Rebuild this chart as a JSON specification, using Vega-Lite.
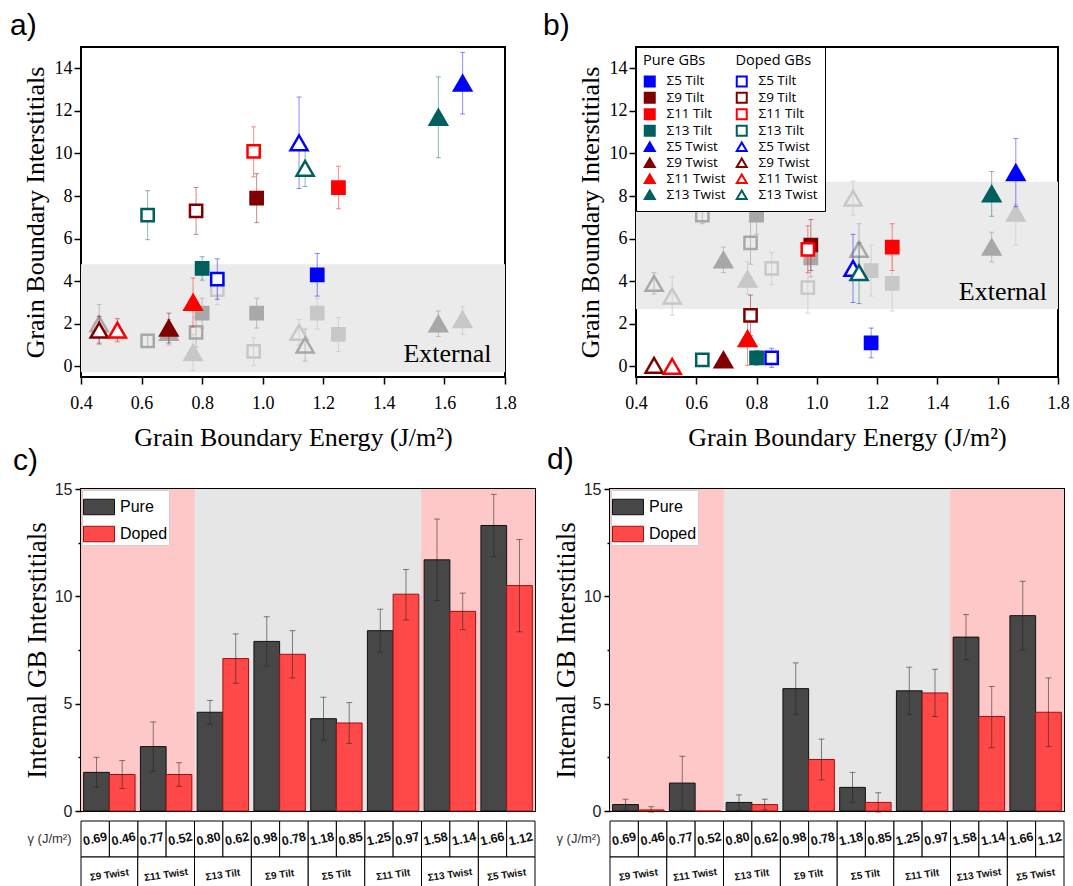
{
  "$schema": "https://vega.github.io/schema/vega-lite/v6.json",
  "padding": {"left": 9, "top": 10, "right": 5, "bottom": 0},
  "datasets": {
    "gb": [
      {"n":"Σ5 Tilt","sig":"Σ5","type":"Tilt","state":"Pure","lkey":"Pure|Σ5 Tilt","g":1.18,"a":4.3,"alo":3.3,"ahi":5.3,"ae":2.5,"aelo":1.75,"aehi":3.2,"b":1.1,"blo":0.4,"bhi":1.8,"be":4.5,"belo":3.3,"behi":5.7},
      {"n":"Σ9 Tilt","sig":"Σ9","type":"Tilt","state":"Pure","lkey":"Pure|Σ9 Tilt","g":0.98,"a":7.9,"alo":6.75,"ahi":9.05,"ae":2.5,"aelo":1.8,"aehi":3.2,"b":5.7,"blo":4.5,"bhi":6.9,"be":5.1,"belo":4.2,"behi":6.0},
      {"n":"Σ11 Tilt","sig":"Σ11","type":"Tilt","state":"Pure","lkey":"Pure|Σ11 Tilt","g":1.25,"a":8.4,"alo":7.4,"ahi":9.4,"ae":1.5,"aelo":0.7,"aehi":2.3,"b":5.6,"blo":4.5,"bhi":6.7,"be":3.9,"belo":2.6,"behi":5.2},
      {"n":"Σ13 Tilt","sig":"Σ13","type":"Tilt","state":"Pure","lkey":"Pure|Σ13 Tilt","g":0.80,"a":4.6,"alo":4.05,"ahi":5.15,"ae":2.5,"aelo":1.8,"aehi":3.2,"b":0.4,"blo":0.05,"bhi":0.75,"be":7.1,"belo":6.2,"behi":8.0},
      {"n":"Σ5 Twist","sig":"Σ5","type":"Twist","state":"Pure","lkey":"Pure|Σ5 Twist","g":1.66,"a":13.3,"alo":11.85,"ahi":14.75,"ae":2.2,"aelo":1.5,"aehi":2.8,"b":9.1,"blo":7.5,"bhi":10.7,"be":7.2,"belo":5.7,"behi":7.6},
      {"n":"Σ9 Twist","sig":"Σ9","type":"Twist","state":"Pure","lkey":"Pure|Σ9 Twist","g":0.69,"a":1.8,"alo":1.1,"ahi":2.5,"ae":1.6,"aelo":1.0,"aehi":2.2,"b":0.3,"blo":0.05,"bhi":0.55,"be":5.0,"belo":4.4,"behi":5.6},
      {"n":"Σ11 Twist","sig":"Σ11","type":"Twist","state":"Pure","lkey":"Pure|Σ11 Twist","g":0.77,"a":3.0,"alo":1.85,"ahi":4.15,"ae":0.65,"aelo":-0.2,"aehi":1.5,"b":1.3,"blo":0.05,"bhi":2.55,"be":4.1,"belo":3.4,"behi":4.9},
      {"n":"Σ13 Twist","sig":"Σ13","type":"Twist","state":"Pure","lkey":"Pure|Σ13 Twist","g":1.58,"a":11.7,"alo":9.8,"ahi":13.6,"ae":2.0,"aelo":1.4,"aehi":2.6,"b":8.1,"blo":7.05,"bhi":9.15,"be":5.6,"belo":4.9,"behi":6.3},
      {"n":"Σ5 Tilt","sig":"Σ5","type":"Tilt","state":"Doped","lkey":"Doped|Σ5 Tilt","g":0.85,"a":4.1,"alo":3.15,"ahi":5.05,"ae":3.6,"aelo":2.9,"aehi":4.3,"b":0.4,"blo":-0.05,"bhi":0.85,"be":4.6,"belo":3.85,"behi":5.35},
      {"n":"Σ9 Tilt","sig":"Σ9","type":"Tilt","state":"Doped","lkey":"Doped|Σ9 Tilt","g":0.78,"a":7.3,"alo":6.2,"ahi":8.4,"ae":1.6,"aelo":0.9,"aehi":2.3,"b":2.4,"blo":1.45,"bhi":3.35,"be":5.8,"belo":4.8,"behi":6.8},
      {"n":"Σ11 Tilt","sig":"Σ11","type":"Tilt","state":"Doped","lkey":"Doped|Σ11 Tilt","g":0.97,"a":10.1,"alo":8.9,"ahi":11.25,"ae":0.7,"aelo":0.05,"aehi":1.35,"b":5.5,"blo":4.4,"bhi":6.6,"be":3.7,"belo":2.5,"behi":4.9},
      {"n":"Σ13 Tilt","sig":"Σ13","type":"Tilt","state":"Doped","lkey":"Doped|Σ13 Tilt","g":0.62,"a":7.1,"alo":5.95,"ahi":8.25,"ae":1.2,"aelo":0.9,"aehi":1.5,"b":0.3,"blo":0.05,"bhi":0.55,"be":7.1,"belo":6.7,"behi":7.5},
      {"n":"Σ5 Twist","sig":"Σ5","type":"Twist","state":"Doped","lkey":"Doped|Σ5 Twist","g":1.12,"a":10.5,"alo":8.35,"ahi":12.65,"ae":1.6,"aelo":1.0,"aehi":2.2,"b":4.6,"blo":3.0,"bhi":6.2,"be":7.9,"belo":7.1,"behi":8.7},
      {"n":"Σ9 Twist","sig":"Σ9","type":"Twist","state":"Doped","lkey":"Doped|Σ9 Twist","g":0.46,"a":1.7,"alo":1.05,"ahi":2.35,"ae":2.0,"aelo":1.1,"aehi":2.9,"b":0.05,"blo":-0.05,"bhi":0.2,"be":3.9,"belo":3.4,"behi":4.4},
      {"n":"Σ11 Twist","sig":"Σ11","type":"Twist","state":"Doped","lkey":"Doped|Σ11 Twist","g":0.52,"a":1.7,"alo":1.15,"ahi":2.25,"ae":1.7,"aelo":1.2,"aehi":2.2,"b":0.0,"blo":0.0,"bhi":0.0,"be":3.3,"belo":2.4,"behi":4.2},
      {"n":"Σ13 Twist","sig":"Σ13","type":"Twist","state":"Doped","lkey":"Doped|Σ13 Twist","g":1.14,"a":9.3,"alo":8.45,"ahi":10.15,"ae":1.0,"aelo":0.25,"aehi":1.75,"b":4.4,"blo":2.95,"bhi":5.8,"be":5.5,"belo":4.3,"behi":6.7}
    ]
  },
  "columns": 1,
  "align": "none",
  "spacing": -7,
  "resolve": {"scale": {"fill": "independent", "stroke": "independent", "shape": "independent", "color": "independent", "xOffset": "independent"}, "legend": {"fill": "independent", "stroke": "independent", "shape": "independent", "color": "independent"}},
  "concat": [
    {
      "hconcat": [
        {
          "width": 424, "height": 330,
          "title": {"text": "a)", "anchor": "start", "frame": "group", "dx": -71, "offset": -18, "baseline": "alphabetic", "fontSize": 30, "font": "Liberation Sans", "fontWeight": "normal", "color": "#000"},
          "data": {"name": "gb"},
          "layer": [
            {"data": {"values": [{}]}, "mark": {"type": "rect", "color": "#ebebeb"},
             "encoding": {
               "x": {"datum": 0.4, "type": "quantitative", "scale": {"domain": [0.4, 1.8], "nice": false, "zero": false},
                     "axis": {"title": "Grain Boundary Energy (J/m²)", "values": [0.4,0.5,0.6,0.7,0.8,0.9,1.0,1.1,1.2,1.3,1.4,1.5,1.6,1.7,1.8], "labelExpr": "round(datum.value*10)%2===0 ? format(datum.value,'.1f') : ''", "tickSize": {"condition": {"test": "round(datum.value*10)%2===0", "value": 7}, "value": 4}, "tickWidth": 1.5, "labelFont": "Liberation Serif", "labelFontSize": 18, "labelPadding": 10, "labelFlush": false, "labelOverlap": false, "titleFont": "Liberation Serif", "titleFontSize": 26, "titlePadding": 12}},
               "x2": {"datum": 1.8},
               "y": {"datum": -0.28, "type": "quantitative", "scale": {"domain": [-0.5, 15], "nice": false, "zero": false},
                     "axis": {"title": "Grain Boundary Interstitials", "values": [0,1,2,3,4,5,6,7,8,9,10,11,12,13,14], "labelExpr": "datum.value%2===0 ? datum.label : ''", "tickSize": {"condition": {"test": "datum.value%2===0", "value": 7}, "value": 4}, "tickWidth": 1.5, "labelFont": "Liberation Serif", "labelFontSize": 18, "labelPadding": 2, "labelFlush": false, "labelOverlap": false, "titleFont": "Liberation Serif", "titleFontSize": 26, "titlePadding": 6}},
               "y2": {"datum": 4.79}}},
            {"mark": {"type": "rule", "strokeWidth": 1, "opacity": 0.7},
             "encoding": {"x": {"field": "g", "type": "quantitative"}, "y": {"field": "aelo", "type": "quantitative"}, "y2": {"field": "aehi"},
               "color": {"condition": {"test": "datum.sig==='Σ9'||datum.sig==='Σ13'", "value": "#a8a8a8"}, "value": "#c8c8c8"}}},
            {"mark": {"type": "tick", "orient": "horizontal", "size": 5, "thickness": 1, "opacity": 0.7},
             "encoding": {"x": {"field": "g", "type": "quantitative"}, "y": {"field": "aelo", "type": "quantitative"},
               "color": {"condition": {"test": "datum.sig==='Σ9'||datum.sig==='Σ13'", "value": "#a8a8a8"}, "value": "#c8c8c8"}}},
            {"mark": {"type": "tick", "orient": "horizontal", "size": 5, "thickness": 1, "opacity": 0.7},
             "encoding": {"x": {"field": "g", "type": "quantitative"}, "y": {"field": "aehi", "type": "quantitative"},
               "color": {"condition": {"test": "datum.sig==='Σ9'||datum.sig==='Σ13'", "value": "#a8a8a8"}, "value": "#c8c8c8"}}},
            {"mark": {"type": "point", "strokeWidth": 2.5, "opacity": 1},
             "encoding": {"x": {"field": "g", "type": "quantitative"}, "y": {"field": "ae", "type": "quantitative"},
               "shape": {"condition": {"test": "datum.type==='Twist'", "value": "triangle-up"}, "value": "square"},
               "size": {"condition": {"test": "datum.type==='Twist'", "value": 290}, "value": 150},
               "stroke": {"condition": {"test": "datum.sig==='Σ9'||datum.sig==='Σ13'", "value": "#a8a8a8"}, "value": "#c8c8c8"},
               "fill": {"condition": [{"test": "datum.state==='Doped'", "value": "transparent"}, {"test": "datum.sig==='Σ9'||datum.sig==='Σ13'", "value": "#a8a8a8"}], "value": "#c8c8c8"}}},
            {"mark": {"type": "rule", "strokeWidth": 1, "opacity": 0.45},
             "encoding": {"x": {"field": "g", "type": "quantitative"}, "y": {"field": "alo", "type": "quantitative"}, "y2": {"field": "ahi"},
               "color": {"field": "sig", "type": "nominal", "scale": {"domain": ["Σ5","Σ9","Σ11","Σ13"], "range": ["#0000ff","#800000","#ff0000","#005f5f"]}, "legend": null}}},
            {"mark": {"type": "tick", "orient": "horizontal", "size": 5, "thickness": 1, "opacity": 0.45},
             "encoding": {"x": {"field": "g", "type": "quantitative"}, "y": {"field": "alo", "type": "quantitative"},
               "color": {"field": "sig", "type": "nominal", "legend": null}}},
            {"mark": {"type": "tick", "orient": "horizontal", "size": 5, "thickness": 1, "opacity": 0.45},
             "encoding": {"x": {"field": "g", "type": "quantitative"}, "y": {"field": "ahi", "type": "quantitative"},
               "color": {"field": "sig", "type": "nominal", "legend": null}}},
            {"mark": {"type": "point", "strokeWidth": 2.5, "opacity": 1},
             "encoding": {"x": {"field": "g", "type": "quantitative"}, "y": {"field": "a", "type": "quantitative"},
               "size": {"condition": {"test": "datum.type==='Twist'", "value": 290}, "value": 150},
               "shape": {"field": "lkey", "type": "nominal", "scale": {"domain": ["Pure|Σ5 Tilt","Pure|Σ9 Tilt","Pure|Σ11 Tilt","Pure|Σ13 Tilt","Pure|Σ5 Twist","Pure|Σ9 Twist","Pure|Σ11 Twist","Pure|Σ13 Twist","Doped|Σ5 Tilt","Doped|Σ9 Tilt","Doped|Σ11 Tilt","Doped|Σ13 Tilt","Doped|Σ5 Twist","Doped|Σ9 Twist","Doped|Σ11 Twist","Doped|Σ13 Twist"], "range": ["square","square","square","square","triangle-up","triangle-up","triangle-up","triangle-up","square","square","square","square","triangle-up","triangle-up","triangle-up","triangle-up"]}, "legend": null},
               "stroke": {"field": "lkey", "type": "nominal", "scale": {"domain": ["Pure|Σ5 Tilt","Pure|Σ9 Tilt","Pure|Σ11 Tilt","Pure|Σ13 Tilt","Pure|Σ5 Twist","Pure|Σ9 Twist","Pure|Σ11 Twist","Pure|Σ13 Twist","Doped|Σ5 Tilt","Doped|Σ9 Tilt","Doped|Σ11 Tilt","Doped|Σ13 Tilt","Doped|Σ5 Twist","Doped|Σ9 Twist","Doped|Σ11 Twist","Doped|Σ13 Twist"], "range": ["#0000ff","#800000","#ff0000","#005f5f","#0000ff","#800000","#ff0000","#005f5f","#0000ff","#800000","#ff0000","#005f5f","#0000ff","#800000","#ff0000","#005f5f"]}, "legend": null},
               "fill": {"field": "lkey", "type": "nominal", "scale": {"domain": ["Pure|Σ5 Tilt","Pure|Σ9 Tilt","Pure|Σ11 Tilt","Pure|Σ13 Tilt","Pure|Σ5 Twist","Pure|Σ9 Twist","Pure|Σ11 Twist","Pure|Σ13 Twist","Doped|Σ5 Tilt","Doped|Σ9 Tilt","Doped|Σ11 Tilt","Doped|Σ13 Tilt","Doped|Σ5 Twist","Doped|Σ9 Twist","Doped|Σ11 Twist","Doped|Σ13 Twist"], "range": ["#0000ff","#800000","#ff0000","#005f5f","#0000ff","#800000","#ff0000","#005f5f","#ffffff","#ffffff","#ffffff","#ffffff","#ffffff","#ffffff","#ffffff","#ffffff"]}, "legend": null}}},
            {"data": {"values": [{}]}, "mark": {"type": "text", "text": "External", "font": "Liberation Serif", "fontSize": 26, "align": "center", "baseline": "alphabetic", "color": "#000"},
             "encoding": {"x": {"datum": 1.61, "type": "quantitative"}, "y": {"datum": 0.22, "type": "quantitative"}}}
          ]
        },
        {
          "width": 422, "height": 330,
          "title": {"text": "b)", "anchor": "start", "frame": "group", "dx": -93, "offset": -18.5, "baseline": "alphabetic", "fontSize": 30, "font": "Liberation Sans", "fontWeight": "normal", "color": "#000"},
          "data": {"name": "gb"},
          "layer": [
            {"data": {"values": [{}]}, "mark": {"type": "rect", "color": "#ebebeb"},
             "encoding": {
               "x": {"datum": 0.4, "type": "quantitative", "scale": {"domain": [0.4, 1.8], "nice": false, "zero": false},
                     "axis": {"title": "Grain Boundary Energy (J/m²)", "values": [0.4,0.5,0.6,0.7,0.8,0.9,1.0,1.1,1.2,1.3,1.4,1.5,1.6,1.7,1.8], "labelExpr": "round(datum.value*10)%2===0 ? format(datum.value,'.1f') : ''", "tickSize": {"condition": {"test": "round(datum.value*10)%2===0", "value": 7}, "value": 4}, "tickWidth": 1.5, "labelFont": "Liberation Serif", "labelFontSize": 18, "labelPadding": 10, "labelFlush": false, "labelOverlap": false, "titleFont": "Liberation Serif", "titleFontSize": 26, "titlePadding": 12}},
               "x2": {"datum": 1.8},
               "y": {"datum": 2.69, "type": "quantitative", "scale": {"domain": [-0.5, 15], "nice": false, "zero": false},
                     "axis": {"title": "Grain Boundary Interstitials", "values": [0,1,2,3,4,5,6,7,8,9,10,11,12,13,14], "labelExpr": "datum.value%2===0 ? datum.label : ''", "tickSize": {"condition": {"test": "datum.value%2===0", "value": 7}, "value": 4}, "tickWidth": 1.5, "labelFont": "Liberation Serif", "labelFontSize": 18, "labelPadding": 2, "labelFlush": false, "labelOverlap": false, "titleFont": "Liberation Serif", "titleFontSize": 26, "titlePadding": 6}},
               "y2": {"datum": 8.67}}},
            {"mark": {"type": "rule", "strokeWidth": 1, "opacity": 0.7},
             "encoding": {"x": {"field": "g", "type": "quantitative"}, "y": {"field": "belo", "type": "quantitative"}, "y2": {"field": "behi"},
               "color": {"condition": {"test": "datum.sig==='Σ9'||datum.sig==='Σ13'", "value": "#a8a8a8"}, "value": "#c8c8c8"}}},
            {"mark": {"type": "tick", "orient": "horizontal", "size": 5, "thickness": 1, "opacity": 0.7},
             "encoding": {"x": {"field": "g", "type": "quantitative"}, "y": {"field": "belo", "type": "quantitative"},
               "color": {"condition": {"test": "datum.sig==='Σ9'||datum.sig==='Σ13'", "value": "#a8a8a8"}, "value": "#c8c8c8"}}},
            {"mark": {"type": "tick", "orient": "horizontal", "size": 5, "thickness": 1, "opacity": 0.7},
             "encoding": {"x": {"field": "g", "type": "quantitative"}, "y": {"field": "behi", "type": "quantitative"},
               "color": {"condition": {"test": "datum.sig==='Σ9'||datum.sig==='Σ13'", "value": "#a8a8a8"}, "value": "#c8c8c8"}}},
            {"mark": {"type": "point", "strokeWidth": 2.5, "opacity": 1},
             "encoding": {"x": {"field": "g", "type": "quantitative"}, "y": {"field": "be", "type": "quantitative"},
               "shape": {"condition": {"test": "datum.type==='Twist'", "value": "triangle-up"}, "value": "square"},
               "size": {"condition": {"test": "datum.type==='Twist'", "value": 290}, "value": 150},
               "stroke": {"condition": {"test": "datum.sig==='Σ9'||datum.sig==='Σ13'", "value": "#a8a8a8"}, "value": "#c8c8c8"},
               "fill": {"condition": [{"test": "datum.state==='Doped'", "value": "transparent"}, {"test": "datum.sig==='Σ9'||datum.sig==='Σ13'", "value": "#a8a8a8"}], "value": "#c8c8c8"}}},
            {"mark": {"type": "rule", "strokeWidth": 1, "opacity": 0.45},
             "encoding": {"x": {"field": "g", "type": "quantitative"}, "y": {"field": "blo", "type": "quantitative"}, "y2": {"field": "bhi"},
               "color": {"field": "sig", "type": "nominal", "scale": {"domain": ["Σ5","Σ9","Σ11","Σ13"], "range": ["#0000ff","#800000","#ff0000","#005f5f"]}, "legend": null}}},
            {"mark": {"type": "tick", "orient": "horizontal", "size": 5, "thickness": 1, "opacity": 0.45},
             "encoding": {"x": {"field": "g", "type": "quantitative"}, "y": {"field": "blo", "type": "quantitative"},
               "color": {"field": "sig", "type": "nominal", "legend": null}}},
            {"mark": {"type": "tick", "orient": "horizontal", "size": 5, "thickness": 1, "opacity": 0.45},
             "encoding": {"x": {"field": "g", "type": "quantitative"}, "y": {"field": "bhi", "type": "quantitative"},
               "color": {"field": "sig", "type": "nominal", "legend": null}}},
            {"mark": {"type": "point", "strokeWidth": 2.5, "opacity": 1},
             "encoding": {"x": {"field": "g", "type": "quantitative"}, "y": {"field": "b", "type": "quantitative"},
               "size": {"condition": {"test": "datum.type==='Twist'", "value": 290}, "value": 150},
               "shape": {"field": "lkey", "type": "nominal", "scale": {"domain": ["Pure|Σ5 Tilt","Pure|Σ9 Tilt","Pure|Σ11 Tilt","Pure|Σ13 Tilt","Pure|Σ5 Twist","Pure|Σ9 Twist","Pure|Σ11 Twist","Pure|Σ13 Twist","Doped|Σ5 Tilt","Doped|Σ9 Tilt","Doped|Σ11 Tilt","Doped|Σ13 Tilt","Doped|Σ5 Twist","Doped|Σ9 Twist","Doped|Σ11 Twist","Doped|Σ13 Twist"], "range": ["square","square","square","square","triangle-up","triangle-up","triangle-up","triangle-up","square","square","square","square","triangle-up","triangle-up","triangle-up","triangle-up"]},
                        "legend": {"orient": "top-left", "offset": 0, "columns": 2, "title": "\u00a0\u00a0Pure GBs\u00a0\u00a0\u00a0\u00a0\u00a0\u00a0\u00a0\u00a0Doped GBs", "titleFont": "Open Sans", "titleFontSize": 14.5, "titleFontWeight": "normal", "titleColor": "#000", "labelFont": "Open Sans", "labelFontSize": 13.5, "labelColor": "#000", "labelExpr": "split(datum.label, '|')[1]", "symbolSize": 100, "symbolStrokeWidth": 2, "fillColor": "#ffffff", "strokeColor": "#000000", "padding": 7, "rowPadding": -2.5, "columnPadding": 6, "labelOffset": 10, "titlePadding": 6, "encoding": {"symbols": {"update": {"size": {"value": 100}}}}}},
               "stroke": {"field": "lkey", "type": "nominal", "scale": {"domain": ["Pure|Σ5 Tilt","Pure|Σ9 Tilt","Pure|Σ11 Tilt","Pure|Σ13 Tilt","Pure|Σ5 Twist","Pure|Σ9 Twist","Pure|Σ11 Twist","Pure|Σ13 Twist","Doped|Σ5 Tilt","Doped|Σ9 Tilt","Doped|Σ11 Tilt","Doped|Σ13 Tilt","Doped|Σ5 Twist","Doped|Σ9 Twist","Doped|Σ11 Twist","Doped|Σ13 Twist"], "range": ["#0000ff","#800000","#ff0000","#005f5f","#0000ff","#800000","#ff0000","#005f5f","#0000ff","#800000","#ff0000","#005f5f","#0000ff","#800000","#ff0000","#005f5f"]},
                        "legend": {"orient": "top-left", "offset": 0, "columns": 2, "title": "\u00a0\u00a0Pure GBs\u00a0\u00a0\u00a0\u00a0\u00a0\u00a0\u00a0\u00a0Doped GBs", "titleFont": "Open Sans", "titleFontSize": 14.5, "titleFontWeight": "normal", "titleColor": "#000", "labelFont": "Open Sans", "labelFontSize": 13.5, "labelColor": "#000", "labelExpr": "split(datum.label, '|')[1]", "symbolSize": 100, "symbolStrokeWidth": 2, "fillColor": "#ffffff", "strokeColor": "#000000", "padding": 7, "rowPadding": -2.5, "columnPadding": 6, "labelOffset": 10, "titlePadding": 6, "encoding": {"symbols": {"update": {"size": {"value": 100}}}}}},
               "fill": {"field": "lkey", "type": "nominal", "scale": {"domain": ["Pure|Σ5 Tilt","Pure|Σ9 Tilt","Pure|Σ11 Tilt","Pure|Σ13 Tilt","Pure|Σ5 Twist","Pure|Σ9 Twist","Pure|Σ11 Twist","Pure|Σ13 Twist","Doped|Σ5 Tilt","Doped|Σ9 Tilt","Doped|Σ11 Tilt","Doped|Σ13 Tilt","Doped|Σ5 Twist","Doped|Σ9 Twist","Doped|Σ11 Twist","Doped|Σ13 Twist"], "range": ["#0000ff","#800000","#ff0000","#005f5f","#0000ff","#800000","#ff0000","#005f5f","#ffffff","#ffffff","#ffffff","#ffffff","#ffffff","#ffffff","#ffffff","#ffffff"]},
                        "legend": {"orient": "top-left", "offset": 0, "columns": 2, "title": "\u00a0\u00a0Pure GBs\u00a0\u00a0\u00a0\u00a0\u00a0\u00a0\u00a0\u00a0Doped GBs", "titleFont": "Open Sans", "titleFontSize": 14.5, "titleFontWeight": "normal", "titleColor": "#000", "labelFont": "Open Sans", "labelFontSize": 13.5, "labelColor": "#000", "labelExpr": "split(datum.label, '|')[1]", "symbolSize": 100, "symbolStrokeWidth": 2, "fillColor": "#ffffff", "strokeColor": "#000000", "padding": 7, "rowPadding": -2.5, "columnPadding": 6, "labelOffset": 10, "titlePadding": 6, "encoding": {"symbols": {"update": {"size": {"value": 100}}}}}}}},
            {"data": {"values": [{}]}, "mark": {"type": "text", "text": "External", "font": "Liberation Serif", "fontSize": 26, "align": "center", "baseline": "alphabetic", "color": "#000"},
             "encoding": {"x": {"datum": 1.617, "type": "quantitative"}, "y": {"datum": 3.14, "type": "quantitative"}}}
          ]
        }
      ],
      "spacing": 24,
      "resolve": {"scale": {"fill": "independent", "stroke": "independent", "shape": "independent", "color": "independent", "xOffset": "independent"}, "legend": {"fill": "independent", "stroke": "independent", "shape": "independent", "color": "independent"}}
    },
    {
      "concat": [
        {
          "width": 454, "height": 322,
          "title": {"text": "c)", "anchor": "start", "frame": "group", "dx": -68, "offset": -19, "baseline": "alphabetic", "fontSize": 30, "font": "Liberation Sans", "fontWeight": "normal", "color": "#000"},
          "data": {"name": "gb"},
          "layer": [
            {"transform": [{"filter": "datum.state === 'Pure'"}], "mark": {"type": "rect", "strokeWidth": 6, "clip": true},
             "encoding": {
               "x": {"field": "n", "type": "nominal", "sort": ["Σ9 Twist","Σ11 Twist","Σ13 Tilt","Σ9 Tilt","Σ5 Tilt","Σ11 Tilt","Σ13 Twist","Σ5 Twist"], "scale": {"paddingInner": 0.094, "paddingOuter": 0.047}, "axis": null},
               "y": {"datum": 0, "type": "quantitative", "scale": {"domain": [0, 15], "nice": false},
                     "axis": {"title": "Internal GB Interstitials", "values": [0, 2.5, 5, 7.5, 10, 12.5, 15], "labelExpr": "datum.value % 5 === 0 ? datum.label : ''", "tickSize": {"condition": {"test": "datum.value % 5 === 0", "value": 6}, "value": 3}, "tickWidth": 1.5, "labelFont": "Liberation Sans", "labelFontSize": 16, "labelColor": "#222", "labelPadding": 3, "labelOverlap": false, "labelFlush": false, "titleFont": "Liberation Serif", "titleFontSize": 27, "titlePadding": 3}},
               "y2": {"datum": 15},
               "fill": {"condition": {"test": "datum.type==='Twist'", "value": "#ffc8c8"}, "value": "#e6e6e6"},
               "stroke": {"condition": {"test": "datum.type==='Twist'", "value": "#ffc8c8"}, "value": "#e6e6e6"}}},
            {"mark": {"type": "bar", "strokeWidth": 1},
             "encoding": {
               "x": {"field": "n", "type": "nominal", "sort": ["Σ9 Twist","Σ11 Twist","Σ13 Tilt","Σ9 Tilt","Σ5 Tilt","Σ11 Tilt","Σ13 Twist","Σ5 Twist"]},
               "xOffset": {"field": "state", "type": "nominal", "sort": ["Pure", "Doped"], "scale": {"paddingInner": 0, "paddingOuter": 0}},
               "y": {"field": "a", "type": "quantitative", "stack": null},
               "fill": {"field": "state", "type": "nominal", "scale": {"domain": ["Pure", "Doped"], "range": ["#474747", "#ff4848"]},
                        "legend": {"orient": "top-left", "offset": 1, "title": null, "symbolType": "M-1,-0.5H1V0.5H-1Z", "symbolSize": 961, "symbolStrokeWidth": 1, "labelFont": "Liberation Sans", "labelFontSize": 16, "labelColor": "#000", "labelOffset": 5, "fillColor": "#ffffff", "strokeColor": "#d0d0d0", "padding": 1, "rowPadding": 1}},
               "stroke": {"field": "state", "type": "nominal", "scale": {"domain": ["Pure", "Doped"], "range": ["#111111", "#a01010"]},
                        "legend": {"orient": "top-left", "offset": 1, "title": null, "symbolType": "M-1,-0.5H1V0.5H-1Z", "symbolSize": 961, "symbolStrokeWidth": 1, "labelFont": "Liberation Sans", "labelFontSize": 16, "labelColor": "#000", "labelOffset": 5, "fillColor": "#ffffff", "strokeColor": "#d0d0d0", "padding": 1, "rowPadding": 1}}}},
            {"mark": {"type": "rule", "strokeWidth": 1, "color": "#222", "opacity": 0.55},
             "encoding": {
               "x": {"field": "n", "type": "nominal", "sort": ["Σ9 Twist","Σ11 Twist","Σ13 Tilt","Σ9 Tilt","Σ5 Tilt","Σ11 Tilt","Σ13 Twist","Σ5 Twist"]},
               "xOffset": {"field": "state", "type": "nominal", "sort": ["Pure", "Doped"]},
               "y": {"field": "alo", "type": "quantitative"}, "y2": {"field": "ahi"}}},
            {"mark": {"type": "tick", "orient": "horizontal", "size": 6, "thickness": 1, "color": "#222", "opacity": 0.55},
             "encoding": {
               "x": {"field": "n", "type": "nominal", "sort": ["Σ9 Twist","Σ11 Twist","Σ13 Tilt","Σ9 Tilt","Σ5 Tilt","Σ11 Tilt","Σ13 Twist","Σ5 Twist"]},
               "xOffset": {"field": "state", "type": "nominal", "sort": ["Pure", "Doped"]},
               "y": {"field": "alo", "type": "quantitative"}}},
            {"mark": {"type": "tick", "orient": "horizontal", "size": 6, "thickness": 1, "color": "#222", "opacity": 0.55},
             "encoding": {
               "x": {"field": "n", "type": "nominal", "sort": ["Σ9 Twist","Σ11 Twist","Σ13 Tilt","Σ9 Tilt","Σ5 Tilt","Σ11 Tilt","Σ13 Twist","Σ5 Twist"]},
               "xOffset": {"field": "state", "type": "nominal", "sort": ["Pure", "Doped"]},
               "y": {"field": "ahi", "type": "quantitative"}}}
          ]
        },
        {
          "width": 454, "height": 322,
          "title": {"text": "d)", "anchor": "start", "frame": "group", "dx": -63, "offset": -18, "baseline": "alphabetic", "fontSize": 30, "font": "Liberation Sans", "fontWeight": "normal", "color": "#000"},
          "data": {"name": "gb"},
          "layer": [
            {"transform": [{"filter": "datum.state === 'Pure'"}], "mark": {"type": "rect", "strokeWidth": 6, "clip": true},
             "encoding": {
               "x": {"field": "n", "type": "nominal", "sort": ["Σ9 Twist","Σ11 Twist","Σ13 Tilt","Σ9 Tilt","Σ5 Tilt","Σ11 Tilt","Σ13 Twist","Σ5 Twist"], "scale": {"paddingInner": 0.094, "paddingOuter": 0.047}, "axis": null},
               "y": {"datum": 0, "type": "quantitative", "scale": {"domain": [0, 15], "nice": false},
                     "axis": {"title": "Internal GB Interstitials", "values": [0, 2.5, 5, 7.5, 10, 12.5, 15], "labelExpr": "datum.value % 5 === 0 ? datum.label : ''", "tickSize": {"condition": {"test": "datum.value % 5 === 0", "value": 6}, "value": 3}, "tickWidth": 1.5, "labelFont": "Liberation Sans", "labelFontSize": 16, "labelColor": "#222", "labelPadding": 3, "labelOverlap": false, "labelFlush": false, "titleFont": "Liberation Serif", "titleFontSize": 27, "titlePadding": 3}},
               "y2": {"datum": 15},
               "fill": {"condition": {"test": "datum.type==='Twist'", "value": "#ffc8c8"}, "value": "#e6e6e6"},
               "stroke": {"condition": {"test": "datum.type==='Twist'", "value": "#ffc8c8"}, "value": "#e6e6e6"}}},
            {"mark": {"type": "bar", "strokeWidth": 1},
             "encoding": {
               "x": {"field": "n", "type": "nominal", "sort": ["Σ9 Twist","Σ11 Twist","Σ13 Tilt","Σ9 Tilt","Σ5 Tilt","Σ11 Tilt","Σ13 Twist","Σ5 Twist"]},
               "xOffset": {"field": "state", "type": "nominal", "sort": ["Pure", "Doped"], "scale": {"paddingInner": 0, "paddingOuter": 0}},
               "y": {"field": "b", "type": "quantitative", "stack": null},
               "fill": {"field": "state", "type": "nominal", "scale": {"domain": ["Pure", "Doped"], "range": ["#474747", "#ff4848"]},
                        "legend": {"orient": "top-left", "offset": 1, "title": null, "symbolType": "M-1,-0.5H1V0.5H-1Z", "symbolSize": 961, "symbolStrokeWidth": 1, "labelFont": "Liberation Sans", "labelFontSize": 16, "labelColor": "#000", "labelOffset": 5, "fillColor": "#ffffff", "strokeColor": "#d0d0d0", "padding": 1, "rowPadding": 1}},
               "stroke": {"field": "state", "type": "nominal", "scale": {"domain": ["Pure", "Doped"], "range": ["#111111", "#a01010"]},
                        "legend": {"orient": "top-left", "offset": 1, "title": null, "symbolType": "M-1,-0.5H1V0.5H-1Z", "symbolSize": 961, "symbolStrokeWidth": 1, "labelFont": "Liberation Sans", "labelFontSize": 16, "labelColor": "#000", "labelOffset": 5, "fillColor": "#ffffff", "strokeColor": "#d0d0d0", "padding": 1, "rowPadding": 1}}}},
            {"transform": [{"filter": "datum.bhi > 0"}], "mark": {"type": "rule", "strokeWidth": 1, "color": "#222", "opacity": 0.55},
             "encoding": {
               "x": {"field": "n", "type": "nominal", "sort": ["Σ9 Twist","Σ11 Twist","Σ13 Tilt","Σ9 Tilt","Σ5 Tilt","Σ11 Tilt","Σ13 Twist","Σ5 Twist"]},
               "xOffset": {"field": "state", "type": "nominal", "sort": ["Pure", "Doped"]},
               "y": {"field": "blo", "type": "quantitative"}, "y2": {"field": "bhi"}}},
            {"transform": [{"filter": "datum.bhi > 0"}], "mark": {"type": "tick", "orient": "horizontal", "size": 6, "thickness": 1, "color": "#222", "opacity": 0.55},
             "encoding": {
               "x": {"field": "n", "type": "nominal", "sort": ["Σ9 Twist","Σ11 Twist","Σ13 Tilt","Σ9 Tilt","Σ5 Tilt","Σ11 Tilt","Σ13 Twist","Σ5 Twist"]},
               "xOffset": {"field": "state", "type": "nominal", "sort": ["Pure", "Doped"]},
               "y": {"field": "blo", "type": "quantitative"}}},
            {"transform": [{"filter": "datum.bhi > 0"}], "mark": {"type": "tick", "orient": "horizontal", "size": 6, "thickness": 1, "color": "#222", "opacity": 0.55},
             "encoding": {
               "x": {"field": "n", "type": "nominal", "sort": ["Σ9 Twist","Σ11 Twist","Σ13 Tilt","Σ9 Tilt","Σ5 Tilt","Σ11 Tilt","Σ13 Twist","Σ5 Twist"]},
               "xOffset": {"field": "state", "type": "nominal", "sort": ["Pure", "Doped"]},
               "y": {"field": "bhi", "type": "quantitative"}}}
          ]
        },
        {
          "width": 454, "height": 72, "view": {"stroke": null},
          "data": {"name": "gb"},
          "layer": [
            {"mark": {"type": "rect", "fill": "#ffffff", "stroke": "#000000", "strokeWidth": 1},
             "encoding": {
               "x": {"field": "n", "type": "nominal", "sort": ["Σ9 Twist","Σ11 Twist","Σ13 Tilt","Σ9 Tilt","Σ5 Tilt","Σ11 Tilt","Σ13 Twist","Σ5 Twist"], "scale": {"paddingInner": 0, "paddingOuter": 0}, "axis": null},
               "xOffset": {"field": "state", "type": "nominal", "sort": ["Pure", "Doped"], "scale": {"paddingInner": 0, "paddingOuter": 0}},
               "y": {"datum": "gamma", "type": "nominal", "scale": {"domain": ["gamma", "group"], "paddingInner": 0, "paddingOuter": 0},
                     "axis": {"title": null, "domain": false, "ticks": false, "labelExpr": "datum.value === 'gamma' ? 'γ (J/m²)' : ''", "labelFont": "Liberation Sans", "labelFontSize": 13, "labelColor": "#333", "labelPadding": 10}}}},
            {"mark": {"type": "text", "angle": -12, "font": "Liberation Sans", "fontSize": 12.5, "fontWeight": "bold", "color": "#111"},
             "encoding": {
               "x": {"field": "n", "type": "nominal", "sort": ["Σ9 Twist","Σ11 Twist","Σ13 Tilt","Σ9 Tilt","Σ5 Tilt","Σ11 Tilt","Σ13 Twist","Σ5 Twist"]},
               "xOffset": {"field": "state", "type": "nominal", "sort": ["Pure", "Doped"]},
               "y": {"datum": "gamma", "type": "nominal"},
               "text": {"field": "g", "type": "quantitative", "format": ".2f"}}},
            {"transform": [{"filter": "datum.state === 'Pure'"}], "mark": {"type": "rect", "fill": "#ffffff", "stroke": "#000000", "strokeWidth": 1},
             "encoding": {
               "x": {"field": "n", "type": "nominal", "sort": ["Σ9 Twist","Σ11 Twist","Σ13 Tilt","Σ9 Tilt","Σ5 Tilt","Σ11 Tilt","Σ13 Twist","Σ5 Twist"]},
               "y": {"datum": "group", "type": "nominal"}}},
            {"transform": [{"filter": "datum.state === 'Pure'"}], "mark": {"type": "text", "angle": -8, "font": "Liberation Sans", "fontSize": 10, "fontWeight": "bold", "color": "#111"},
             "encoding": {
               "x": {"field": "n", "type": "nominal", "sort": ["Σ9 Twist","Σ11 Twist","Σ13 Tilt","Σ9 Tilt","Σ5 Tilt","Σ11 Tilt","Σ13 Twist","Σ5 Twist"]},
               "y": {"datum": "group", "type": "nominal"},
               "text": {"field": "n", "type": "nominal"}}}
          ]
        },
        {
          "width": 454, "height": 72, "view": {"stroke": null},
          "data": {"name": "gb"},
          "layer": [
            {"mark": {"type": "rect", "fill": "#ffffff", "stroke": "#000000", "strokeWidth": 1},
             "encoding": {
               "x": {"field": "n", "type": "nominal", "sort": ["Σ9 Twist","Σ11 Twist","Σ13 Tilt","Σ9 Tilt","Σ5 Tilt","Σ11 Tilt","Σ13 Twist","Σ5 Twist"], "scale": {"paddingInner": 0, "paddingOuter": 0}, "axis": null},
               "xOffset": {"field": "state", "type": "nominal", "sort": ["Pure", "Doped"], "scale": {"paddingInner": 0, "paddingOuter": 0}},
               "y": {"datum": "gamma", "type": "nominal", "scale": {"domain": ["gamma", "group"], "paddingInner": 0, "paddingOuter": 0},
                     "axis": {"title": null, "domain": false, "ticks": false, "labelExpr": "datum.value === 'gamma' ? 'γ (J/m²)' : ''", "labelFont": "Liberation Sans", "labelFontSize": 13, "labelColor": "#333", "labelPadding": 10}}}},
            {"mark": {"type": "text", "angle": -12, "font": "Liberation Sans", "fontSize": 12.5, "fontWeight": "bold", "color": "#111"},
             "encoding": {
               "x": {"field": "n", "type": "nominal", "sort": ["Σ9 Twist","Σ11 Twist","Σ13 Tilt","Σ9 Tilt","Σ5 Tilt","Σ11 Tilt","Σ13 Twist","Σ5 Twist"]},
               "xOffset": {"field": "state", "type": "nominal", "sort": ["Pure", "Doped"]},
               "y": {"datum": "gamma", "type": "nominal"},
               "text": {"field": "g", "type": "quantitative", "format": ".2f"}}},
            {"transform": [{"filter": "datum.state === 'Pure'"}], "mark": {"type": "rect", "fill": "#ffffff", "stroke": "#000000", "strokeWidth": 1},
             "encoding": {
               "x": {"field": "n", "type": "nominal", "sort": ["Σ9 Twist","Σ11 Twist","Σ13 Tilt","Σ9 Tilt","Σ5 Tilt","Σ11 Tilt","Σ13 Twist","Σ5 Twist"]},
               "y": {"datum": "group", "type": "nominal"}}},
            {"transform": [{"filter": "datum.state === 'Pure'"}], "mark": {"type": "text", "angle": -8, "font": "Liberation Sans", "fontSize": 10, "fontWeight": "bold", "color": "#111"},
             "encoding": {
               "x": {"field": "n", "type": "nominal", "sort": ["Σ9 Twist","Σ11 Twist","Σ13 Tilt","Σ9 Tilt","Σ5 Tilt","Σ11 Tilt","Σ13 Twist","Σ5 Twist"]},
               "y": {"datum": "group", "type": "nominal"},
               "text": {"field": "n", "type": "nominal"}}}
          ]
        }
      ],
      "columns": 2,
      "align": "each",
      "spacing": {"row": 0, "column": 10},
      "resolve": {"scale": {"fill": "independent", "stroke": "independent", "shape": "independent", "color": "independent", "xOffset": "independent"}, "legend": {"fill": "independent", "stroke": "independent", "shape": "independent", "color": "independent"}}
    }
  ],
  "config": {
    "background": "#ffffff",
    "view": {"stroke": "#000000", "strokeWidth": 2},
    "axis": {"grid": false, "domain": false, "tickColor": "#000", "labelColor": "#000", "titleColor": "#000", "titleFontWeight": "normal"},
    "legend": {"labelLimit": 200, "titleFontWeight": "normal", "titleFontSize": 14.5}
  }
}
